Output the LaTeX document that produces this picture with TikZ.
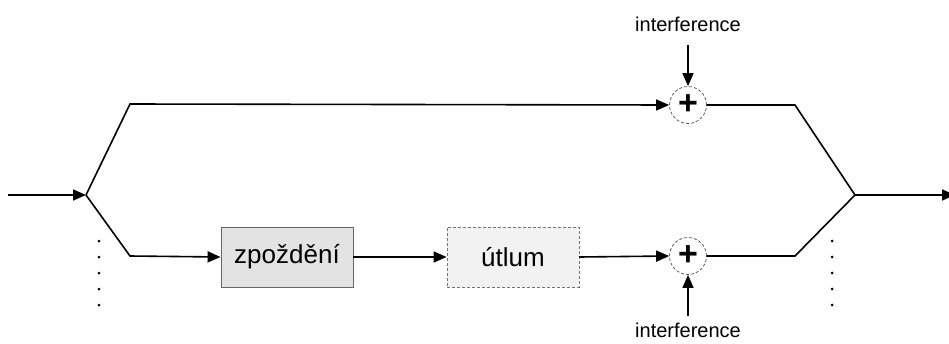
\documentclass[tikz,border=0pt]{standalone}
\usepackage{fontspec}
\setmainfont{Liberation Sans}
\usetikzlibrary{arrows.meta}
\begin{document}
\begin{tikzpicture}[x=1pt,y=-1pt,
  conn/.style={line width=1.6pt,-{Triangle[length=13pt,width=11pt]}},
  plain/.style={line width=1.6pt},
  sumnode/.style={circle,draw=black!70,densely dashed,line width=0.7pt,minimum size=37pt,inner sep=0pt,font=\fontsize{34}{34}\bfseries\selectfont},
  delaybox/.style={rectangle,draw=black!60,line width=0.9pt,fill=black!11,minimum width=132pt,minimum height=60pt,font=\fontsize{26}{28}\selectfont},
  attbox/.style={rectangle,draw=black!55,densely dashed,line width=0.8pt,fill=black!5,minimum width=132pt,minimum height=60pt,font=\fontsize{26}{28}\selectfont},
  lbl/.style={font=\fontsize{20}{22}\selectfont,inner sep=0pt},
  dotmark/.style={circle,fill=black,inner sep=0pt,minimum size=3pt}]
\useasboundingbox (0,0) rectangle (949,343);
\fill[white] (0,0) rectangle (949,343);
% nodes
\coordinate (in) at (8,195);
\coordinate (split) at (86,195);
\coordinate (ucorner) at (130,104);
\coordinate (lcorner) at (130,256);
\node[delaybox] (delay) at (287,257) {zpoždění};
\node[attbox] (att) at (513,257) {útlum};
\node[sumnode] (s1) at (688,105) {\raisebox{1.5pt}{+}};
\node[sumnode] (s2) at (688,256) {\raisebox{1.5pt}{+}};
\node[lbl,anchor=base] (i1) at (688,31) {interference};
\node[lbl,anchor=base] (i2) at (688,337) {interference};
\coordinate (i1a) at (688,45);
\coordinate (i2a) at (688,316);
\coordinate (urcorner) at (795,105);
\coordinate (lrcorner) at (795,256);
\coordinate (merge) at (855,195);
\coordinate (out) at (955,195);
% connectors
\draw[conn] (in) -- (split);
\draw[conn] (split) -- (ucorner) -- (s1.west);
\draw[conn] (split) -- (lcorner) -- (delay.west);
\draw[conn] (delay.east) -- (att.west);
\draw[conn] (att.east) -- (s2.west);
\draw[conn] (i1a) -- (s1.north);
\draw[conn] (i2a) -- (s2.south);
\draw[plain] (s1.east) -- (urcorner) -- (merge);
\draw[plain] (s2.east) -- (lrcorner) -- (merge);
\draw[conn] (merge) -- (out);
% dots
\foreach \yy [count=\k] in {241,257,273,289,305} {
  \node[dotmark] (dl\k) at (99,\yy) {};
  \node[dotmark] (dr\k) at (832,\yy) {};
}
\end{tikzpicture}
\end{document}
